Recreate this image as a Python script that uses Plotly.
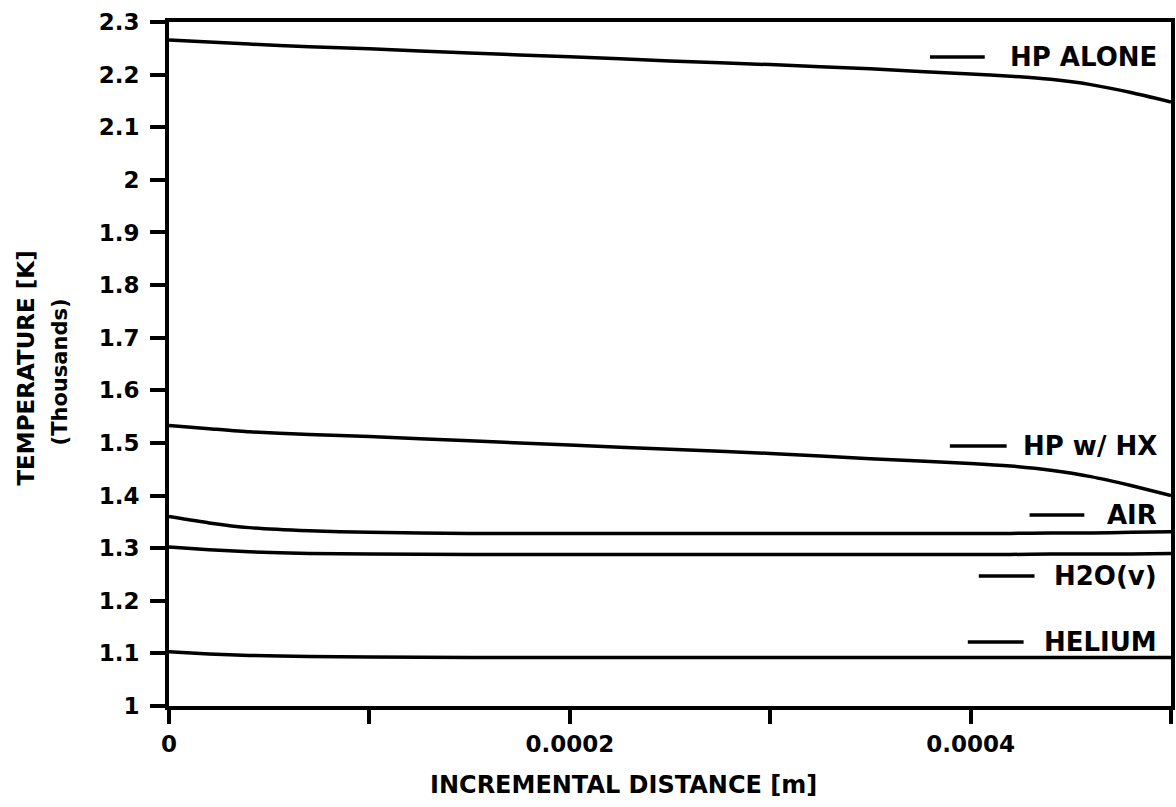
import plotly.graph_objects as go

# Incremental distance along the channel [m]
distance = [0, 0.00002, 0.00004, 0.00007, 0.0001, 0.00015, 0.0002, 0.00025,
            0.0003, 0.00035, 0.0004, 0.00042, 0.00044, 0.00046, 0.00048, 0.0005]

# Temperature profiles [K, thousands]
hp_alone = [2.266, 2.262, 2.258, 2.253, 2.249, 2.241, 2.234, 2.226,
            2.219, 2.211, 2.201, 2.197, 2.191, 2.181, 2.166, 2.148]
hp_hx = [1.533, 1.527, 1.521, 1.516, 1.512, 1.504, 1.496, 1.488,
         1.480, 1.470, 1.461, 1.456, 1.448, 1.436, 1.419, 1.400]
air = [1.360, 1.348, 1.339, 1.333, 1.330, 1.328, 1.328, 1.328,
       1.328, 1.328, 1.328, 1.328, 1.329, 1.329, 1.330, 1.331]
h2o = [1.302, 1.297, 1.293, 1.290, 1.289, 1.288, 1.288, 1.288,
       1.288, 1.288, 1.288, 1.288, 1.289, 1.289, 1.289, 1.290]
helium = [1.103, 1.099, 1.096, 1.094, 1.093, 1.092, 1.092, 1.092,
          1.092, 1.092, 1.092, 1.092, 1.092, 1.092, 1.092, 1.092]

series_names = ["HP ALONE", "HP w/ HX", "AIR", "H2O(v)", "HELIUM"]
series_values = [hp_alone, hp_hx, air, h2o, helium]

x_tickvals = [0, 0.0001, 0.0002, 0.0003, 0.0004, 0.0005]
x_ticktext = ["0", "", "0.0002", "", "0.0004", ""]
y_tickvals = [1.0, 1.1, 1.2, 1.3, 1.4, 1.5, 1.6, 1.7, 1.8, 1.9, 2.0, 2.1, 2.2, 2.3]
y_ticktext = ["1", "1.1", "1.2", "1.3", "1.4", "1.5", "1.6", "1.7", "1.8",
              "1.9", "2", "2.1", "2.2", "2.3"]

FONT = "DejaVu Sans"

def bold(s):
    return f"<b>{s}</b>" if s else ""

fig = go.Figure()
for name, vals in zip(series_names, series_values):
    fig.add_trace(go.Scatter(x=distance, y=vals, mode="lines", name=name,
                             line=dict(color="black", width=3.5, shape="spline",
                                       smoothing=0.5),
                             showlegend=False))

# In-plot key: short dash followed by a right-aligned label
# (label centre y, dash left x, dash right x) in pixel units of the figure
L, R, T, B = 169, 1175, 22, 706
W, H = R - L, B - T
key_pos = [(57, 933, 988), (446, 953, 1010), (515, 1033, 1088),
           (576, 982, 1038), (642, 971, 1027)]

def px(xp):
    return (xp - L) / W

def py(yp):
    return (B - yp) / H

for name, (yc, x0, x1) in zip(series_names, key_pos):
    fig.add_shape(type="line", xref="paper", yref="paper",
                  x0=px(x0), x1=px(x1), y0=py(yc), y1=py(yc),
                  line=dict(color="black", width=3.5))
    fig.add_annotation(xref="paper", yref="paper", x=px(1163), y=py(yc),
                       xanchor="right", yanchor="middle", text=bold(name),
                       showarrow=False, font=dict(family=FONT, size=26, color="black"))

# Axis titles
fig.add_annotation(xref="paper", yref="paper", x=px(625), y=py(785),
                   xanchor="center", yanchor="middle",
                   text=bold("INCREMENTAL DISTANCE [m]"), showarrow=False,
                   font=dict(family=FONT, size=24, color="black"))
fig.add_annotation(xref="paper", yref="paper", x=px(25), y=py(368),
                   xanchor="center", yanchor="middle", textangle=-90,
                   text=bold("TEMPERATURE [K]"), showarrow=False,
                   font=dict(family=FONT, size=23, color="black"))
fig.add_annotation(xref="paper", yref="paper", x=px(60), y=py(372),
                   xanchor="center", yanchor="middle", textangle=-90,
                   text=bold("(Thousands)"), showarrow=False,
                   font=dict(family=FONT, size=21, color="black"))

fig.update_xaxes(range=[0, 0.0005], tickvals=x_tickvals,
                 ticktext=[bold(t) for t in x_ticktext],
                 ticks="outside", ticklen=14, tickwidth=3.5, tickcolor="black",
                 showline=True, linewidth=4, linecolor="black", mirror=True,
                 showgrid=False, zeroline=False,
                 tickfont=dict(family=FONT, size=23, color="black"))
fig.update_yaxes(range=[1, 2.3], tickvals=y_tickvals,
                 ticktext=[bold(t) for t in y_ticktext],
                 ticks="outside", ticklen=15, tickwidth=3.5, tickcolor="black",
                 ticklabelstandoff=6,
                 showline=True, linewidth=4, linecolor="black", mirror=True,
                 showgrid=False, zeroline=False,
                 tickfont=dict(family=FONT, size=23, color="black"))

fig.update_layout(width=1176, height=807,
                  margin=dict(l=L, r=1176 - R, t=T, b=807 - B),
                  plot_bgcolor="white", paper_bgcolor="white",
                  font=dict(family=FONT, color="black"))

fig.write_html("out.html")
